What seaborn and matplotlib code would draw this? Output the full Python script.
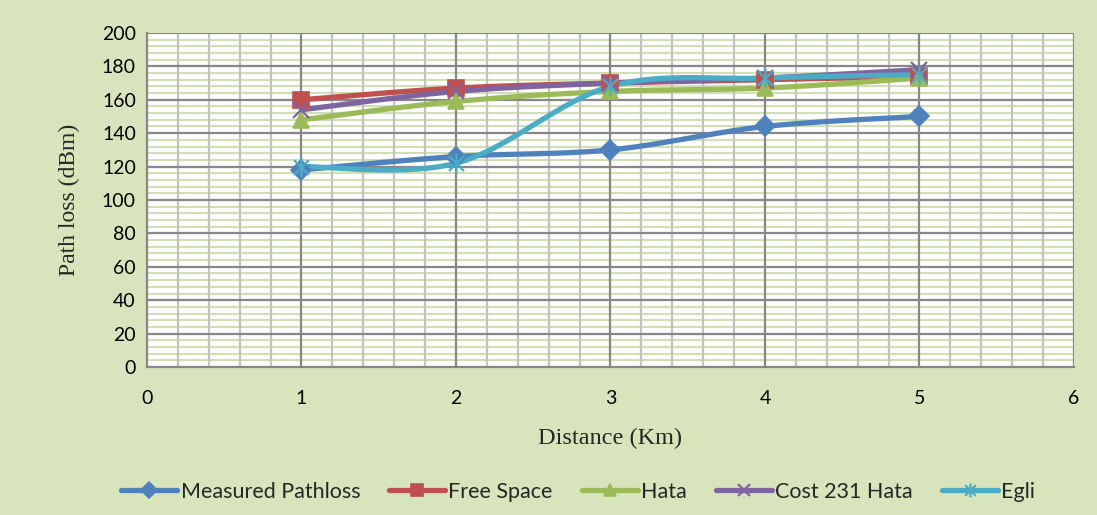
import numpy as np
import pandas as pd
import matplotlib
matplotlib.use("Agg")
import matplotlib.pyplot as plt
from matplotlib.path import Path
from matplotlib.ticker import MultipleLocator
import seaborn as sns

# Path loss versus distance for each propagation model
distance_km = [1, 2, 3, 4, 5]
measured_pathloss = [118, 126, 130, 144, 150]
free_space = [160, 167, 170, 172, 174]
hata = [148, 159, 165, 167, 173]
cost231_hata = [154, 165, 170, 173, 178]
egli = [120, 122, 168, 173, 175]

series_names = ["Measured Pathloss", "Free Space", "Hata", "Cost 231 Hata", "Egli"]
series_values = [measured_pathloss, free_space, hata, cost231_hata, egli]
series_colors = ["#4F81BD", "#C0504D", "#9BBB59", "#8064A2", "#4BACC6"]

# asterisk marker: an x with a vertical bar through it
_s = 0.5
star_path = Path(
    [(-_s, -_s), (_s, _s), (-_s, _s), (_s, -_s), (0, -0.65), (0, 0.65)],
    [Path.MOVETO, Path.LINETO, Path.MOVETO, Path.LINETO, Path.MOVETO, Path.LINETO],
)
series_markers = ["D", "s", "^", "x", star_path]
marker_sizes = [10, 11.5, 11.5, 11.5, 14]
legend_marker_sizes = [8, 9, 9, 9, 10]


def smooth_curve(xs, ys, steps=40):
    """Cubic Bezier smoothing through the points (Catmull-Rom style)."""
    pts = np.column_stack([xs, ys]).astype(float)
    n = len(pts)
    out = []
    for i in range(n - 1):
        p0 = pts[max(i - 1, 0)]
        p1 = pts[i]
        p2 = pts[i + 1]
        p3 = pts[min(i + 2, n - 1)]
        c1 = p1 + (p2 - p0) / 6.0
        c2 = p2 - (p3 - p1) / 6.0
        t = np.linspace(0, 1, steps)[:, None]
        seg = ((1 - t) ** 3) * p1 + 3 * ((1 - t) ** 2) * t * c1 + 3 * (1 - t) * t ** 2 * c2 + t ** 3 * p2
        if i > 0:
            seg = seg[1:]
        out.append(seg)
    return np.vstack(out)


sns.set_theme(style="white")
plt.rcParams["font.family"] = ["Lato", "DejaVu Sans"]

bg = "#D8E4BC"
major_grey = "#878787"
fig = plt.figure(figsize=(10.97, 5.15), dpi=100, facecolor=bg)
ax = fig.add_axes([0.134, 0.2874, 0.845, 0.6486])
ax.set_facecolor("white")

ax.set_xlim(0, 6)
ax.set_ylim(0, 200)
ax.xaxis.set_major_locator(MultipleLocator(1))
ax.xaxis.set_minor_locator(MultipleLocator(0.2))
ax.yaxis.set_major_locator(MultipleLocator(20))
ax.yaxis.set_minor_locator(MultipleLocator(4))
ax.grid(False)

# gridlines, layered: green minor rows, grey minor columns, dark major lines
ymin_loc = ax.yaxis.get_minorticklocs()
xmin_loc = ax.xaxis.get_minorticklocs()
ymaj_loc = [v for v in ax.yaxis.get_majorticklocs() if 0 < v <= 200]
xmaj_loc = [v for v in ax.xaxis.get_majorticklocs() if 0 < v <= 6]
ax.hlines(ymin_loc, 0, 1, transform=ax.get_yaxis_transform(), color="#D0E0B2", linewidth=1.5, zorder=0.2)
ax.vlines(xmin_loc, 0, 1, transform=ax.get_xaxis_transform(), color="#C2C2C2", linewidth=1.6, zorder=0.3)
ax.hlines(ymaj_loc, 0, 1, transform=ax.get_yaxis_transform(), color=major_grey, linewidth=1.6, zorder=0.4)
ax.vlines(xmaj_loc, 0, 1, transform=ax.get_xaxis_transform(), color=major_grey, linewidth=1.6, zorder=0.4)

# curves
frames = []
for name, vals in zip(series_names, series_values):
    c = smooth_curve(distance_km, vals)
    frames.append(pd.DataFrame({"x": c[:, 0], "y": c[:, 1], "series": name}))
curves = pd.concat(frames, ignore_index=True)

handles = []
for name, color, mk, ms, lms, vals in zip(series_names, series_colors, series_markers,
                                          marker_sizes, legend_marker_sizes, series_values):
    sub = curves[curves["series"] == name]
    sns.lineplot(data=sub, x="x", y="y", sort=False, estimator=None, color=color,
                 linewidth=3.8, ax=ax, legend=False, zorder=3, solid_capstyle="round")
    filled = mk in ("D", "s", "^")
    mew = 1.2 if filled else 1.6
    ax.plot(distance_km, vals, linestyle="none", marker=mk, markersize=ms,
            markerfacecolor=color, markeredgecolor=color, markeredgewidth=mew, zorder=4)
    handles.append(plt.Line2D([], [], color=color, linewidth=3.8, marker=mk, markersize=lms,
                              markerfacecolor=color, markeredgecolor=color,
                              markeredgewidth=mew, solid_capstyle="round", label=name))

for side in ("top", "right"):
    ax.spines[side].set_visible(False)
for side in ("left", "bottom"):
    ax.spines[side].set_color(major_grey)
    ax.spines[side].set_linewidth(1.6)
    ax.spines[side].set_zorder(0.5)

ax.tick_params(which="major", direction="out", length=6, width=1.4, color=major_grey,
               labelsize=14, labelcolor="black")
ax.tick_params(which="minor", length=0)
ax.tick_params(axis="y", pad=2)
ax.tick_params(axis="x", pad=10.5)

ax.set_xlabel("Distance (Km)", family="Liberation Serif", fontsize=17.5, labelpad=15)
ax.set_ylabel("Path loss (dBm)", family="Liberation Serif", fontsize=17, labelpad=16)

fig.legend(handles=handles, loc="center", bbox_to_anchor=(0.527, 0.045), ncol=5, frameon=False,
           fontsize=15.5, handlelength=2.6, handletextpad=0.15, columnspacing=1.35)

fig.savefig("out.png", dpi=100, facecolor=bg)
